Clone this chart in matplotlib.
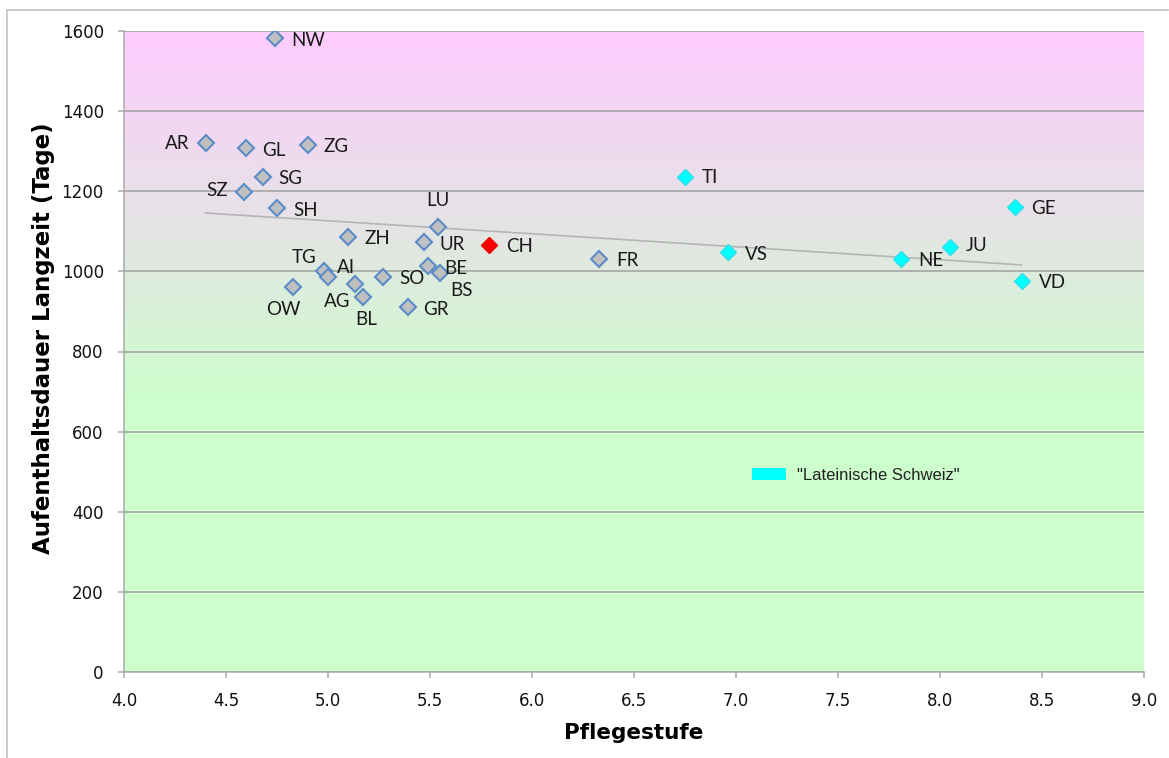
import numpy as np
import matplotlib
matplotlib.use("Agg")
import matplotlib.pyplot as plt
from matplotlib.colors import LinearSegmentedColormap
from matplotlib.patches import Patch
from matplotlib.lines import Line2D

# Deutschschweizer Kantone (grau)
de_kantone = ['NW', 'AR', 'GL', 'ZG', 'SG', 'SZ', 'SH', 'LU', 'ZH', 'UR',
              'TG', 'AI', 'AG', 'BL', 'OW', 'SO', 'GR', 'BE', 'BS', 'FR']
de_pflegestufe = [4.74, 4.40, 4.60, 4.90, 4.68, 4.59, 4.75, 5.54, 5.10, 5.47,
                  4.98, 5.00, 5.13, 5.17, 4.83, 5.27, 5.39, 5.49, 5.55, 6.33]
de_dauer = [1582, 1320, 1308, 1316, 1236, 1198, 1158, 1112, 1086, 1073,
            1001, 986, 968, 936, 961, 986, 911, 1013, 996, 1031]

# Lateinische Schweiz (cyan)
lat_kantone = ['TI', 'VS', 'NE', 'JU', 'GE', 'VD']
lat_pflegestufe = [6.75, 6.96, 7.81, 8.05, 8.37, 8.40]
lat_dauer = [1236, 1048, 1031, 1061, 1161, 976]

# Schweiz gesamt
ch_pflegestufe = [5.79]
ch_dauer = [1065]

# Beschriftungs-Offsets in Pixel (dx, dy, ha)
label_pos = {
    'NW': (16, -2, 'left'), 'AR': (-16, 0, 'right'), 'GL': (16, -3, 'left'),
    'ZG': (16, -2, 'left'), 'SG': (16, -2, 'left'), 'SZ': (-16, 2, 'right'),
    'SH': (16, -2, 'left'), 'LU': (0, 26, 'center'), 'ZH': (16, -2, 'left'),
    'UR': (16, -2, 'left'), 'TG': (-20, 13, 'center'), 'AI': (18, 9, 'center'),
    'AG': (-17, -17, 'center'), 'BL': (4, -22, 'center'), 'OW': (-10, -23, 'center'),
    'SO': (16, -2, 'left'), 'GR': (16, -2, 'left'), 'BE': (16, -2, 'left'),
    'BS': (21, -18, 'center'), 'FR': (17, -2, 'left'), 'TI': (17, -1, 'left'),
    'VS': (17, -2, 'left'), 'NE': (17, -2, 'left'), 'JU': (16, 1, 'left'),
    'GE': (16, -2, 'left'), 'VD': (17, -2, 'left'), 'CH': (17, -1, 'left'),
}

x_ticks = np.arange(4.0, 9.01, 0.5)
y_ticks = np.arange(0, 1601, 200)

# Farbverlauf Hintergrund: grün unten, grau Mitte, rosa oben
bg_stops = [(0.0, '#ccffcc'), (0.42, '#ccffcc'), (0.69, '#e4e4e4'), (1.0, '#ffccff')]

fig = plt.figure(figsize=(11.69, 7.58), dpi=100)
ax = fig.add_axes([124 / 1169, 1 - 672 / 758, 1020 / 1169, 641 / 758])

cmap = LinearSegmentedColormap.from_list('bg', bg_stops)
grad = np.linspace(0, 1, 512).reshape(-1, 1)
ax.imshow(grad, cmap=cmap, origin='lower', aspect='auto',
          extent=[4.0, 9.0, 0, 1600], zorder=0)

ax.set_xlim(4.0, 9.0)
ax.set_ylim(0, 1600)
ax.set_xticks(x_ticks)
ax.set_yticks(y_ticks)
ax.set_xticklabels([f'{v:.1f}' for v in x_ticks])
ax.yaxis.grid(True, color='#a6a6a6', linewidth=1.2, zorder=1)
ax.set_axisbelow(False)
for s in ['top', 'right']:
    ax.spines[s].set_visible(False)
for s in ['left', 'bottom']:
    ax.spines[s].set_color('#b0b0b0')
    ax.spines[s].set_linewidth(1.2)
ax.tick_params(axis='both', colors='#b0b0b0', length=4.5, width=1.2,
               labelsize=12, labelcolor='#111111')
ax.tick_params(axis='x', pad=10)
ax.tick_params(axis='y', pad=10)

# lineare Trendlinie
all_x = np.array(de_pflegestufe + lat_pflegestufe)
all_y = np.array(de_dauer + lat_dauer)
k, d = np.polyfit(all_x, all_y, 1)
tx = np.array([all_x.min(), all_x.max()])
ax.plot(tx, k * tx + d, color='#b4b4b4', linewidth=1.2, zorder=2)

ax.plot(de_pflegestufe, de_dauer, linestyle='none', marker='D', ms=7.8,
        mfc='#c0c0c0', mec='#5b8cc8', mew=1.5, zorder=3)
ax.plot(lat_pflegestufe, lat_dauer, linestyle='none', marker='D', ms=7.8,
        mfc='#00ffff', mec='#33ddee', mew=1.0, zorder=3)
ax.plot(ch_pflegestufe, ch_dauer, linestyle='none', marker='D', ms=7.8,
        mfc='#ff0000', mec='#ee0000', mew=1.0, zorder=3)

names = de_kantone + lat_kantone + ['CH']
xs = de_pflegestufe + lat_pflegestufe + ch_pflegestufe
ys = de_dauer + lat_dauer + ch_dauer
for n, x, y in zip(names, xs, ys):
    dx, dy, ha = label_pos[n]
    ax.annotate(n, (x, y), xytext=(dx, dy), textcoords='offset pixels',
                ha=ha, va='center', fontsize=13.5, family='Lato',
                color='#1a1a1a', zorder=4)

leg = ax.legend(handles=[Patch(facecolor='#00ffff', edgecolor='none',
                               label='"Lateinische Schweiz"')],
                loc='center left', bbox_to_anchor=(0.616, 0.307),
                frameon=False, borderpad=0, borderaxespad=0,
                handlelength=2.0, handleheight=0.75, handletextpad=0.7,
                prop={'family': 'Liberation Sans', 'size': 12})
for t in leg.get_texts():
    t.set_color('#222222')

ax.set_xlabel('Pflegestufe', fontsize=15.5, fontweight='bold')
ax.set_ylabel('Aufenthaltsdauer Langzeit (Tage)', fontsize=16.5, fontweight='bold')
ax.xaxis.set_label_coords(0.5, -0.095)
ax.yaxis.set_label_coords(-0.079, 0.52)
ax.xaxis.label.set_va('center')
ax.yaxis.label.set_va('center')

# Rahmen um das Diagramm
fig.add_artist(Line2D([7 / 1169, 7 / 1169], [0, 1 - 10 / 758],
                      color='#c0c0c0', linewidth=1.2))
fig.add_artist(Line2D([7 / 1169, 1168 / 1169], [1 - 10 / 758, 1 - 10 / 758],
                      color='#c0c0c0', linewidth=1.2))

fig.savefig('out.png', dpi=100)
